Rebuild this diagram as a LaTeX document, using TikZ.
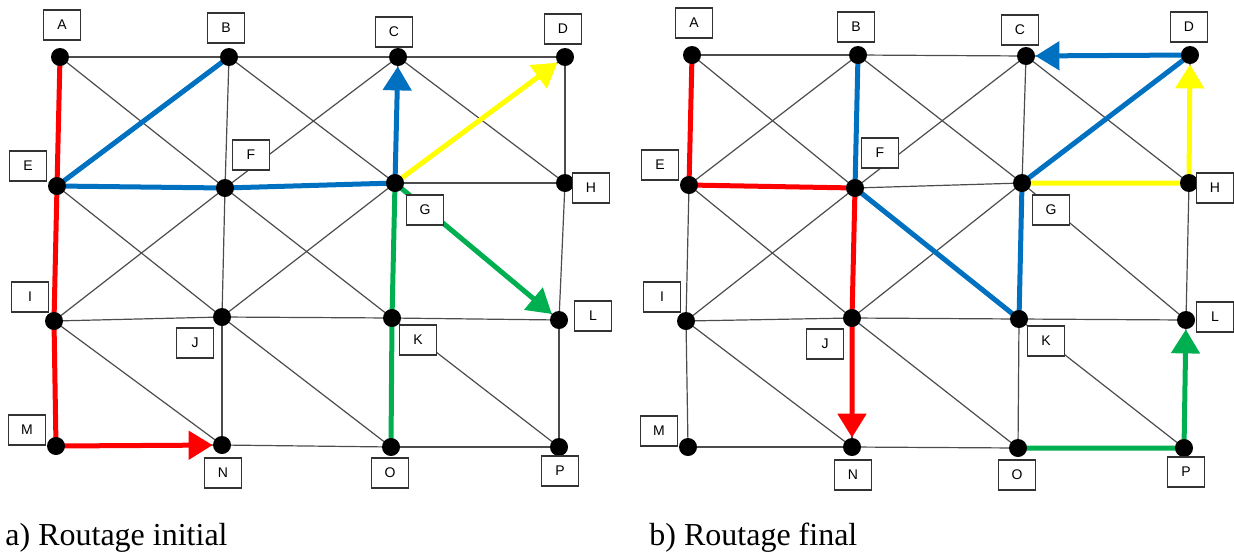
\documentclass[tikz,border=0pt]{standalone}
\usepackage{fontspec}
\setmainfont{Liberation Serif}
\newfontfamily\etiqfont{Liberation Sans}
\usetikzlibrary{arrows.meta,backgrounds}
\definecolor{rouge}{RGB}{255,0,0}
\definecolor{bleu}{RGB}{0,112,192}
\definecolor{jaune}{RGB}{255,255,0}
\definecolor{vert}{RGB}{0,176,80}
\tikzset{
  pt/.style={circle,fill=black,inner sep=0pt,minimum size=9pt},
  etiq/.style={draw=black!80,fill=white,line width=0.6pt,inner sep=0pt,
    minimum width=18.5pt,minimum height=15pt,font=\etiqfont\fontsize{7}{8}\selectfont},
  lien/.style={draw=black!70,line width=0.6pt},
  route/.style={line width=2.5pt,line join=round},
  fleche/.style={-{Triangle[width=14pt,length=12pt]}},
  legende/.style={anchor=base west,inner sep=0pt,font=\fontsize{16}{19}\selectfont},
}
% toutes les aretes fines de la grille
\newcommand{\maillage}{%
  \foreach \a/\b in {A/B,B/C,C/D,E/F,F/G,G/H,I/J,J/K,K/L,M/N,N/O,O/P,
      A/E,E/I,I/M,B/F,F/J,J/N,C/G,G/K,K/O,D/H,H/L,L/P,
      A/F,B/E,B/G,C/F,C/H,D/G,E/J,F/I,F/K,G/J,G/L,I/N,J/O,K/P}
    \draw[lien] (\a.center) -- (\b.center);
}
\begin{document}
\begin{tikzpicture}[x=0.5pt,y=-0.5pt]
\useasboundingbox (0,0) rectangle (1234,552);

% a) routage initial
\begin{scope}[name prefix=ini-]
\node[pt] (A) at (60,57) {};   \node[pt] (B) at (229,57) {};
\node[pt] (C) at (398,57) {};  \node[pt] (D) at (565,57) {};
\node[pt] (E) at (57,186) {};  \node[pt] (F) at (225,188) {};
\node[pt] (G) at (395,183) {}; \node[pt] (H) at (565,183) {};
\node[pt] (I) at (54,321) {};  \node[pt] (J) at (222,317) {};
\node[pt] (K) at (392,318) {}; \node[pt] (L) at (559,320) {};
\node[pt] (M) at (56,446) {};  \node[pt] (N) at (222,445) {};
\node[pt] (O) at (391,447) {}; \node[pt] (P) at (559,447) {};

\begin{pgfonlayer}{background}
\maillage
\draw[route,rouge,fleche] (A.center) -- (E.center) -- (I.center) -- (M.center) -- (N);
\draw[route,bleu,fleche] (B.center) -- (E.center) -- (F.center) -- (G.center) -- (C);
\draw[route,jaune,fleche] (G.center) -- (D);
\draw[route,vert,fleche] (O.center) -- (K.center) -- (G.center) -- (L);
\end{pgfonlayer}

\node[etiq] (eA) at (62,25) {A};   \node[etiq] (eB) at (226,28) {B};
\node[etiq] (eC) at (394,32) {C};  \node[etiq] (eD) at (563,29) {D};
\node[etiq] (eE) at (28,166) {E};  \node[etiq] (eF) at (251,155) {F};
\node[etiq] (eG) at (425,210) {G}; \node[etiq] (eH) at (591,188) {H};
\node[etiq] (eI) at (30,297) {I};  \node[etiq] (eJ) at (195,343) {J};
\node[etiq] (eK) at (418,340) {K}; \node[etiq] (eL) at (593,316) {L};
\node[etiq] (eM) at (27,430) {M};  \node[etiq] (eN) at (223,473) {N};
\node[etiq] (eO) at (390,473) {O}; \node[etiq] (eP) at (560,471) {P};
\end{scope}

% b) routage final
\begin{scope}[name prefix=fin-]
\node[pt] (A) at (692,55) {};   \node[pt] (B) at (858,55) {};
\node[pt] (C) at (1026,56) {};  \node[pt] (D) at (1190,55) {};
\node[pt] (E) at (689,185) {};  \node[pt] (F) at (855,188) {};
\node[pt] (G) at (1022,183) {}; \node[pt] (H) at (1189,183) {};
\node[pt] (I) at (686,321) {};  \node[pt] (J) at (852,318) {};
\node[pt] (K) at (1019,319) {}; \node[pt] (L) at (1186,320) {};
\node[pt] (M) at (688,447) {};  \node[pt] (N) at (852,447) {};
\node[pt] (O) at (1018,448) {}; \node[pt] (P) at (1184,448) {};

\begin{pgfonlayer}{background}
\maillage
\draw[route,rouge,fleche] (A.center) -- (E.center) -- (F.center) -- (J.center) -- (N);
\draw[route,bleu,fleche] (B.center) -- (F.center) -- (K.center) -- (G.center) -- (D.center) -- (C);
\draw[route,jaune,fleche] (G.center) -- (H.center) -- (D);
\draw[route,vert,fleche] (O.center) -- (P.center) -- (L);
\end{pgfonlayer}

\node[etiq] (eA) at (694,23) {A};   \node[etiq] (eB) at (856,27) {B};
\node[etiq] (eC) at (1020,30) {C};  \node[etiq] (eD) at (1189,27) {D};
\node[etiq] (eE) at (660,165) {E};  \node[etiq] (eF) at (880,153) {F};
\node[etiq] (eG) at (1051,210) {G}; \node[etiq] (eH) at (1215,188) {H};
\node[etiq] (eI) at (662,297) {I};  \node[etiq] (eJ) at (825,344) {J};
\node[etiq] (eK) at (1046,341) {K}; \node[etiq] (eL) at (1215,317) {L};
\node[etiq] (eM) at (659,431) {M};  \node[etiq] (eN) at (853,475) {N};
\node[etiq] (eO) at (1017,475) {O}; \node[etiq] (eP) at (1186,472) {P};
\end{scope}

\node[legende] (capa) at (5,545) {a) Routage initial};
\node[legende] (capb) at (649,545) {b) Routage final};

\end{tikzpicture}
\end{document}
